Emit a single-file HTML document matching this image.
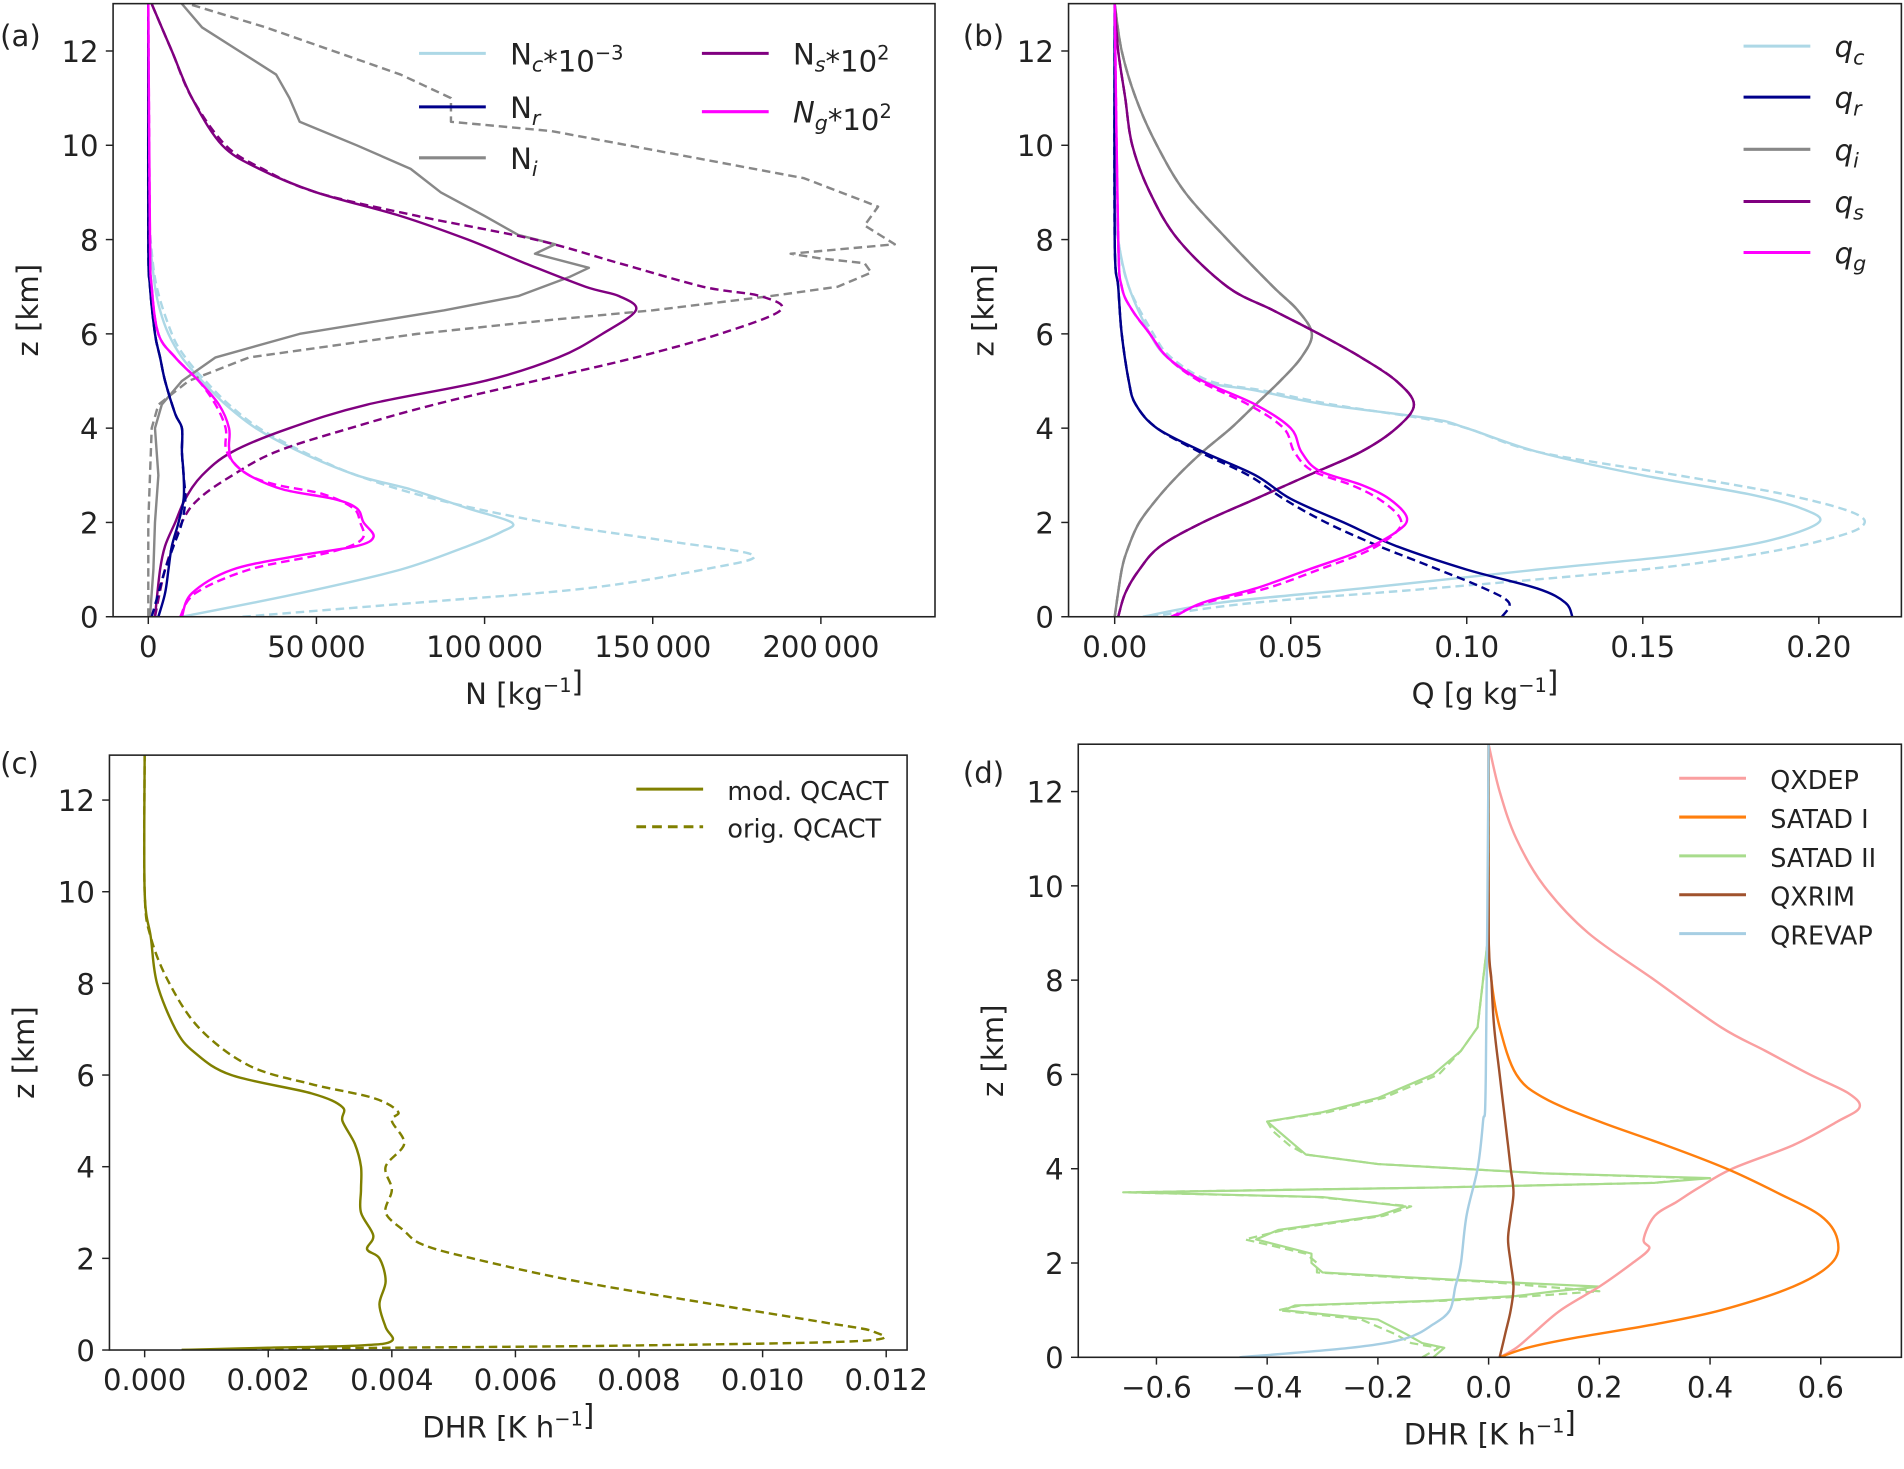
<!DOCTYPE html>
<html><head><meta charset="utf-8"><style>
html,body{margin:0;padding:0;background:#fff;}
svg{display:block;}
text{font-family:"DejaVu Sans","Liberation Sans",sans-serif;fill:#222;}
</style></head><body>
<svg id="fig" width="1904" height="1469" viewBox="0 0 1568 1210" xmlns="http://www.w3.org/2000/svg"></svg>
<script>
// ---------- DATA: panel (a) ----------
const aNcS=[[0,10000],[0.5,45000],[1,75000],[1.5,95000],[1.8,105000],[2.0,108000],[2.3,95000],[2.7,78000],[3,62000],[3.5,45000],[4,32000],[4.5,23000],[5,16000],[5.5,10000],[6,6000],[6.5,3500],[7,2000],[8,500],[9,0],[13,0]];
const aNcD=[[0,28000],[0.3,80000],[0.6,130000],[1,165000],[1.3,180000],[1.6,155000],[2,118000],[2.5,85000],[3,62000],[3.5,46000],[4,33000],[4.5,24000],[5,17000],[5.5,11000],[6,7000],[7,2500],[8,700],[9,0],[13,0]];
const aNrS=[[0,3000],[0.5,5000],[1,6000],[1.5,7000],[2,9000],[2.5,10500],[3,10500],[3.5,10000],[4,10000],[4.3,8000],[5,5000],[5.5,3500],[6,2000],[7,500],[8,0],[13,0]];
const aNrD=[[0,1000],[0.5,3000],[1,5000],[1.5,7500],[2,10000],[2.5,11000],[3,10500],[3.5,10000],[4,10000],[4.3,8000],[5,5000],[5.5,3500],[6,2000],[7,500],[8,0],[13,0]];
const aNiS=[[0,500],[1,1500],[2,2000],[3,3000],[4,2000],[4.5,4000],[5,10000],[5.5,20000],[6,45000],[6.5,88000],[6.8,110000],[7.2,125000],[7.4,131000],[7.7,115000],[7.9,121000],[8.1,110000],[8.5,100000],[9,87000],[9.5,78000],[10,62000],[10.5,45000],[11,42000],[11.5,38000],[12,27000],[12.5,16000],[13,10000]];
const aNiD=[[0,0],[2,0],[4,1000],[4.5,3000],[5,12000],[5.5,30000],[6,80000],[6.3,120000],[6.5,150000],[6.8,185000],[7,205000],[7.3,215000],[7.5,213000],[7.6,200000],[7.7,191000],[7.9,222000],[8.3,213000],[8.7,217000],[9.3,195000],[9.9,150000],[10.3,120000],[10.5,90000],[11,90000],[11.5,75000],[12,55000],[12.5,35000],[13,12000]];
const aNsS=[[0,2000],[1,3500],[1.5,5000],[2,8000],[2.5,11000],[3,16000],[3.5,25000],[4,42000],[4.5,65000],[5,100000],[5.5,122000],[6,135000],[6.5,145000],[6.8,140000],[7,130000],[7.5,112000],[8,95000],[8.5,75000],[9,50000],[9.5,33000],[10,22000],[11,13000],[12,7000],[13,1000]];
const aNsD=[[0,2000],[1,5000],[2,10000],[2.5,15000],[3,25000],[3.5,38000],[4,60000],[4.5,85000],[5,115000],[5.5,145000],[6,170000],[6.5,188000],[6.8,182000],[7,165000],[7.5,140000],[8,115000],[8.5,80000],[9,50000],[9.5,34000],[10,23000],[11,13000],[12,7000],[13,1000]];
const aNgS=[[0,10000],[0.5,13000],[1,25000],[1.3,45000],[1.5,62000],[1.7,67000],[2,64000],[2.3,62000],[2.5,55000],[2.7,40000],[3,30000],[3.3,25000],[3.6,24000],[4,24000],[4.5,21000],[5,15000],[5.5,8000],[6,3000],[7,1000],[8,500],[13,0]];
const aNgD=[[0,9500],[0.5,14000],[1,30000],[1.3,50000],[1.5,60000],[1.7,64000],[2,63000],[2.3,61000],[2.6,52000],[2.8,38000],[3,30000],[3.3,25000],[3.6,23000],[4,23000],[4.5,20000],[5,15000],[5.5,8000],[6,3000],[7,1000],[8,500],[13,0]];
const aTicks=[0,50000,100000,150000,200000];
const aTickLabels=["0","50\u2009000","100\u2009000","150\u2009000","200\u2009000"];
// ---------- DATA: panel (b) ----------
const bQcS=[[0,0.008],[0.3,0.03],[0.6,0.07],[1,0.12],[1.3,0.16],[1.6,0.185],[2,0.2],[2.3,0.195],[2.6,0.18],[3,0.15],[3.5,0.12],[4,0.10],[4.2,0.09],[4.5,0.06],[4.8,0.04],[5,0.025],[5.5,0.015],[6,0.01],[7,0.004],[8,0.001],[9,0],[13,0]];
const bQcD=[[0,0.01],[0.3,0.04],[0.6,0.09],[1,0.15],[1.3,0.18],[1.6,0.2],[1.9,0.212],[2.2,0.21],[2.6,0.19],[3,0.16],[3.5,0.12],[4,0.10],[4.2,0.088],[4.5,0.062],[4.8,0.042],[5,0.027],[5.5,0.016],[6,0.011],[7,0.004],[8,0.001],[9,0],[13,0]];
const bQrS=[[0,0.13],[0.3,0.128],[0.6,0.12],[1,0.1],[1.5,0.08],[2,0.065],[2.5,0.05],[3,0.04],[3.5,0.025],[4,0.012],[4.5,0.006],[5,0.004],[6,0.002],[7,0.001],[8,0],[13,0]];
const bQrD=[[0,0.11],[0.3,0.112],[0.6,0.105],[1,0.092],[1.5,0.075],[2,0.06],[2.5,0.048],[3,0.038],[3.5,0.024],[4,0.012],[4.5,0.006],[5,0.004],[6,0.002],[7,0.001],[8,0],[13,0]];
const bQi=[[0,0],[1,0.002],[1.5,0.004],[2,0.007],[2.5,0.012],[3,0.018],[3.5,0.025],[4,0.033],[4.5,0.04],[5,0.047],[5.5,0.053],[6,0.056],[6.5,0.052],[7,0.045],[8,0.032],[9,0.02],[10,0.012],[11,0.006],[12,0.002],[13,0]];
const bQs=[[0,0.001],[0.5,0.003],[1,0.007],[1.5,0.013],[2,0.025],[2.5,0.04],[3,0.055],[3.5,0.07],[4,0.08],[4.5,0.085],[5,0.08],[5.5,0.07],[6,0.058],[6.5,0.045],[7,0.032],[8,0.018],[9,0.01],[10,0.005],[11,0.003],[12,0.001],[13,0]];
const bQgS=[[0,0.017],[0.3,0.025],[0.6,0.04],[1,0.055],[1.4,0.07],[1.8,0.08],[2.1,0.083],[2.5,0.078],[2.8,0.07],[3.1,0.058],[3.5,0.053],[4,0.05],[4.5,0.04],[5,0.025],[5.5,0.015],[6,0.01],[6.5,0.005],[7,0.002],[8,0.001],[13,0]];
const bQgD=[[0,0.016],[0.3,0.026],[0.6,0.043],[1,0.058],[1.4,0.072],[1.8,0.08],[2.1,0.081],[2.5,0.075],[2.8,0.067],[3.1,0.056],[3.5,0.051],[4,0.048],[4.5,0.038],[5,0.024],[5.5,0.015],[6,0.01],[6.5,0.005],[7,0.002],[8,0.001],[13,0]];
const bTicks=[0,0.05,0.10,0.15,0.20];
const bTickLabels=["0.00","0.05","0.10","0.15","0.20"];
// ---------- DATA: panel (c) ----------
const cMod=[[0,0.0006],[0.05,0.002],[0.1,0.0035],[0.2,0.004],[0.5,0.0039],[1,0.0038],[1.5,0.0039],[2,0.0038],[2.2,0.0036],[2.5,0.0037],[3,0.0035],[3.5,0.0035],[4,0.0035],[4.5,0.0034],[5,0.0032],[5.3,0.0032],[5.6,0.0027],[6,0.0014],[6.5,0.0008],[7,0.0005],[8,0.0002],[9,0.0001],[10,0],[13,0]];
const cOrig=[[0,0.0006],[0.05,0.004],[0.1,0.008],[0.2,0.0116],[0.4,0.0118],[0.6,0.011],[1,0.0092],[1.5,0.007],[2,0.0053],[2.3,0.0045],[2.6,0.0042],[3,0.0039],[3.5,0.004],[4,0.0039],[4.5,0.0042],[5,0.004],[5.2,0.0041],[5.5,0.0037],[5.8,0.0027],[6.2,0.0017],[7,0.0009],[8,0.0004],[9,0.0001],[10,0],[13,0]];
const cTicks=[0,0.002,0.004,0.006,0.008,0.010,0.012];
const cTickLabels=["0.000","0.002","0.004","0.006","0.008","0.010","0.012"];
// ---------- DATA: panel (d) ----------
const dQxdep=[[0,0.02],[0.2,0.05],[0.5,0.08],[1,0.13],[1.5,0.2],[2,0.26],[2.3,0.29],[2.5,0.28],[3,0.3],[3.3,0.34],[3.6,0.38],[4,0.44],[4.5,0.55],[5,0.63],[5.3,0.67],[5.6,0.65],[6,0.58],[6.5,0.5],[7,0.42],[8,0.3],[9,0.18],[10,0.1],[11,0.05],[12,0.02],[13,0]];
const dSatad1=[[0,0.02],[0.2,0.07],[0.4,0.15],[0.7,0.3],[1,0.42],[1.5,0.55],[2,0.62],[2.5,0.63],[3,0.6],[3.5,0.52],[4,0.43],[4.5,0.32],[5,0.2],[5.5,0.1],[6,0.05],[7,0.02],[8,0.005],[9,0],[13,0]];
const dSatad2=[[0,-0.1],[0.2,-0.08],[0.3,-0.12],[0.5,-0.15],[0.8,-0.2],[1,-0.37],[1.1,-0.35],[1.2,-0.1],[1.3,0.05],[1.4,0.12],[1.5,0.2],[1.6,0.02],[1.7,-0.15],[1.8,-0.3],[2,-0.32],[2.2,-0.32],[2.5,-0.42],[2.7,-0.38],[3,-0.2],[3.2,-0.15],[3.4,-0.3],[3.5,-0.65],[3.6,-0.1],[3.7,0.3],[3.8,0.4],[3.9,0.1],[4.1,-0.2],[4.3,-0.33],[4.5,-0.35],[4.8,-0.38],[5,-0.4],[5.2,-0.3],[5.5,-0.2],[6,-0.1],[6.5,-0.05],[7,-0.02],[8,-0.01],[9,0],[13,0]];
const dSatad2D=[[0,-0.12],[0.2,-0.09],[0.3,-0.14],[0.5,-0.17],[0.8,-0.23],[1,-0.38],[1.1,-0.34],[1.2,-0.08],[1.3,0.08],[1.4,0.2],[1.5,0.1],[1.6,0.0],[1.7,-0.17],[1.8,-0.31],[2,-0.31],[2.2,-0.33],[2.5,-0.44],[2.7,-0.37],[3,-0.19],[3.2,-0.14],[3.4,-0.31],[3.5,-0.66],[3.6,-0.1],[3.7,0.3],[3.8,0.38],[3.9,0.1],[4.1,-0.2],[4.3,-0.33],[4.5,-0.36],[4.8,-0.39],[5,-0.4],[5.2,-0.29],[5.5,-0.19],[6,-0.09],[6.5,-0.05],[7,-0.02],[8,-0.01],[9,0],[13,0]];
const dQxrim=[[0,0.02],[0.5,0.03],[1,0.04],[1.5,0.045],[2,0.04],[2.5,0.035],[3,0.04],[3.5,0.045],[4,0.04],[4.5,0.035],[5,0.03],[6,0.02],[7,0.01],[8,0.005],[9,0],[13,0]];
const dQrevap=[[0,-0.45],[0.2,-0.25],[0.4,-0.15],[0.7,-0.1],[1,-0.07],[1.5,-0.06],[2,-0.05],[3,-0.04],[4,-0.02],[5,-0.01],[6,-0.005],[13,0]];
const dTicks=[-0.6,-0.4,-0.2,0,0.2,0.4,0.6];
const dTickLabels=["\u22120.6","\u22120.4","\u22120.2","0.0","0.2","0.4","0.6"];
const zTicks=[0,2,4,6,8,10,12];

// ---------- DRAWING ----------
const NS="http://www.w3.org/2000/svg";
const svg=document.getElementById('fig');
function mk(tag,attrs,parent){const e=document.createElementNS(NS,tag);for(const k in attrs)e.setAttribute(k,attrs[k]);(parent||svg).appendChild(e);return e;}
function scale(d0,d1,r0,r1){return v=>r0+(v-d0)/(d1-d0)*(r1-r0);}
function smoothPath(pts){
  if(pts.length<3)return 'M'+pts.map(p=>p.join(',')).join('L');
  let d='M'+pts[0][0].toFixed(1)+','+pts[0][1].toFixed(1);
  for(let i=0;i<pts.length-1;i++){
    const p0=pts[i-1]||pts[i],p1=pts[i],p2=pts[i+1],p3=pts[i+2]||p2;
    const c1=[p1[0]+(p2[0]-p0[0])/6,p1[1]+(p2[1]-p0[1])/6];
    const c2=[p2[0]-(p3[0]-p1[0])/6,p2[1]-(p3[1]-p1[1])/6];
    d+='C'+c1.map(v=>v.toFixed(1)).join(',')+' '+c2.map(v=>v.toFixed(1)).join(',')+' '+p2[0].toFixed(1)+','+p2[1].toFixed(1);
  }
  return d;
}
function linePath(pts){return 'M'+pts.map(p=>p[0].toFixed(1)+','+p[1].toFixed(1)).join('L');}
function panel(cfg){
  const g=mk('g',{});
  
  
  const xs=scale(cfg.xd[0],cfg.xd[1],cfg.xr[0],cfg.xr[1]);
  const ys=scale(0,12,cfg.y0,cfg.y12);
  const clipId='clip'+cfg.name;
  const cp=mk('clipPath',{id:clipId},g);
  mk('rect',{x:cfg.box[0],y:cfg.box[1],width:cfg.box[2]-cfg.box[0],height:cfg.box[3]-cfg.box[1]},cp);
  const lines=mk('g',{'clip-path':'url(#'+clipId+')'},g);
  cfg.series.forEach(s=>{
    const pts=s.data.map(p=>[xs(p[1]),ys(p[0])]);
    const p=mk('path',{d:s.linear?linePath(pts):smoothPath(pts),fill:'none',stroke:s.color,'stroke-width':s.w||2,'stroke-dasharray':s.dash?'7,4':'none','stroke-linejoin':'round'},lines);
    
    
  });
  const fr=mk('rect',{x:cfg.box[0],y:cfg.box[1],width:cfg.box[2]-cfg.box[0],height:cfg.box[3]-cfg.box[1],fill:'none',stroke:'#222','stroke-width':1.3},g);
  
  
  const b=cfg.box[3];
  cfg.xticks.forEach((v,i)=>{
    const x=xs(v);
    mk('line',{x1:x,x2:x,y1:b,y2:b+6,stroke:'#222','stroke-width':1.2},g);
    const t=mk('text',{x:x,y:b+33,'font-size':24,'text-anchor':'middle'},g);t.textContent=cfg.xlabels[i];
    
    
  });
  zTicks.forEach(v=>{
    const y=ys(v);
    mk('line',{x1:cfg.box[0]-6,x2:cfg.box[0],y1:y,y2:y,stroke:'#222','stroke-width':1.2},g);
    const t=mk('text',{x:cfg.box[0]-12,y:y+9,'font-size':24,'text-anchor':'end'},g);t.textContent=String(v);
    
    
  });
  const yl=mk('text',{x:0,y:0,'font-size':24,'text-anchor':'middle',transform:`translate(${cfg.box[0]-62},${(cfg.box[1]+cfg.box[3])/2}) rotate(-90)`},g);
  yl.textContent='z [km]';
  
  
  const xl=mk('text',{x:(cfg.box[0]+cfg.box[2])/2,y:b+72,'font-size':24,'text-anchor':'middle'},g);
  xl.innerHTML=cfg.xtitle;
  
  
  const pl=mk('text',{x:cfg.label[0],y:cfg.label[1],'font-size':24},g);pl.textContent=cfg.labelText;
  
  
  cfg.legend.forEach(L=>{
    const lg=mk('g',{},g);
    
    
    mk('line',{x1:L.x,x2:L.x+55,y1:L.y,y2:L.y,stroke:L.color,'stroke-width':2.5,'stroke-dasharray':L.dash?'8,5':'none'},lg);
    const t=mk('text',{x:L.x+75,y:L.y+9,'font-size':L.fs||24},lg);t.innerHTML=L.html;
  });
}
const sub=(s)=>`<tspan font-style="italic" font-size="17" dy="6">${s}</tspan><tspan dy="-6"></tspan>`;
const sup=(s)=>`<tspan font-size="16" dy="-10">${s}</tspan><tspan dy="10"></tspan>`;
panel({name:'panel-a',box:[93,3,770,508],xd:[0,50000],xr:[122,260.5],y0:508,y12:42,
  xticks:aTicks,xlabels:aTickLabels,xtitle:'N [kg'+sup('\u22121')+']',label:[0,38],labelText:'(a)',
  series:[
    {id:'nc-orig',data:aNcD,color:'#add8e6',dash:1},{id:'nc-mod',data:aNcS,color:'#add8e6'},
    {id:'ni-orig',data:aNiD,color:'#888',dash:1,linear:1},{id:'ni-mod',data:aNiS,color:'#888',linear:1},
    {id:'ns-orig',data:aNsD,color:'#800080',dash:1},{id:'ns-mod',data:aNsS,color:'#800080'},
    {id:'nr-orig',data:aNrD,color:'#00008b',dash:1},{id:'nr-mod',data:aNrS,color:'#00008b'},
    {id:'ng-orig',data:aNgD,color:'#ff00ff',dash:1},{id:'ng-mod',data:aNgS,color:'#ff00ff'}],
  legend:[
    {x:345,y:44,color:'#add8e6',html:'N'+sub('c')+'*10'+sup('\u22123')},
    {x:345,y:88,color:'#00008b',html:'N'+sub('r')},
    {x:345,y:130,color:'#888',html:'N'+sub('i')},
    {x:578,y:44,color:'#800080',html:'N'+sub('s')+'*10'+sup('2')},
    {x:578,y:92,color:'#ff00ff',html:'<tspan font-style="italic">N</tspan>'+sub('g')+'*10'+sup('2')}]
});
panel({name:'panel-b',box:[880,3,1566,508],xd:[0,0.05],xr:[918,1063],y0:508,y12:42,
  xticks:bTicks,xlabels:bTickLabels,xtitle:'Q [g kg'+sup('\u22121')+']',label:[793,38],labelText:'(b)',
  series:[
    {id:'qc-orig',data:bQcD,color:'#add8e6',dash:1},{id:'qc-mod',data:bQcS,color:'#add8e6'},
    {id:'qi-orig',data:bQi,color:'#888',dash:1},{id:'qi-mod',data:bQi,color:'#888'},
    {id:'qs-orig',data:bQs,color:'#800080',dash:1},{id:'qs-mod',data:bQs,color:'#800080'},
    {id:'qr-orig',data:bQrD,color:'#00008b',dash:1},{id:'qr-mod',data:bQrS,color:'#00008b'},
    {id:'qg-orig',data:bQgD,color:'#ff00ff',dash:1},{id:'qg-mod',data:bQgS,color:'#ff00ff'}],
  legend:[
    {x:1436,y:38,color:'#add8e6',html:'<tspan font-style="italic">q</tspan>'+sub('c')},
    {x:1436,y:80,color:'#00008b',html:'<tspan font-style="italic">q</tspan>'+sub('r')},
    {x:1436,y:123,color:'#888',html:'<tspan font-style="italic">q</tspan>'+sub('i')},
    {x:1436,y:166,color:'#800080',html:'<tspan font-style="italic">q</tspan>'+sub('s')},
    {x:1436,y:208,color:'#ff00ff',html:'<tspan font-style="italic">q</tspan>'+sub('g')}]
});
panel({name:'panel-c',box:[90,622,747,1112],xd:[0,0.002],xr:[119,220.8],y0:1112,y12:659,
  xticks:cTicks,xlabels:cTickLabels,xtitle:'DHR [K h'+sup('\u22121')+']',label:[0,637],labelText:'(c)',
  series:[{id:'orig-qcact',data:cOrig,color:'#808000',dash:1},{id:'mod-qcact',data:cMod,color:'#808000'}],
  legend:[
    {x:524,y:650,color:'#808000',html:'mod. QCACT',fs:21},
    {x:524,y:681,color:'#808000',dash:1,html:'orig. QCACT',fs:21}]
});
const sc=(a,f)=>a;
panel({name:'panel-d',box:[888,613,1566,1118],xd:[0,0.2],xr:[1226,1317.2],y0:1118,y12:652,
  xticks:dTicks,xlabels:dTickLabels,xtitle:'DHR [K h'+sup('\u22121')+']',label:[793,645],labelText:'(d)',
  series:[
    {id:'satad2-orig',data:dSatad2D,color:'#a8dc8c',dash:1,linear:1,w:1.8},{id:'satad2-mod',data:dSatad2,color:'#a8dc8c',linear:1,w:1.8},
    {id:'qxdep',data:dQxdep,color:'#fa9fa0'},{id:'satad1',data:dSatad1,color:'#ff7f0e'},
    {id:'qxrim',data:dQxrim,color:'#a0522d'},{id:'qrevap',data:dQrevap,color:'#a6cee3'}],
  legend:[
    {x:1383,y:641,color:'#fa9fa0',html:'QXDEP',fs:21},
    {x:1383,y:673,color:'#ff7f0e',html:'SATAD I',fs:21},
    {x:1383,y:705,color:'#a8dc8c',html:'SATAD II',fs:21},
    {x:1383,y:737,color:'#a0522d',html:'QXRIM',fs:21},
    {x:1383,y:769,color:'#a6cee3',html:'QREVAP',fs:21}]
});
</script>
</body></html>
